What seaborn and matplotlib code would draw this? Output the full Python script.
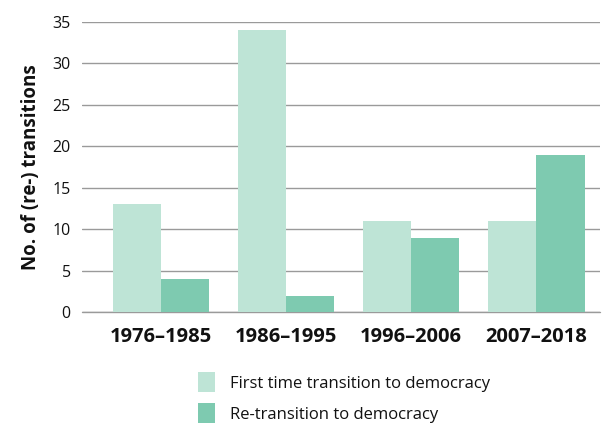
import seaborn as sns
import matplotlib.pyplot as plt
import pandas as pd

periods = ['1976–1985', '1986–1995', '1996–2006', '2007–2018']
first_time = [13, 34, 11, 11]
re_transition = [4, 2, 9, 19]
series = ['First time transition to democracy', 'Re-transition to democracy']

df = pd.DataFrame({
    'period': periods * 2,
    'count': first_time + re_transition,
    'series': [series[0]] * 4 + [series[1]] * 4,
})

sns.set_style('white')
plt.rcParams['font.family'] = ['Open Sans', 'DejaVu Sans']

fig = plt.figure(figsize=(6.02, 4.23), dpi=100)
ax = fig.add_axes([0.136, 0.262, 0.861, 0.686])
ax.set_axisbelow(True)
ax.yaxis.grid(True, color='#9a9a9a', linewidth=1)
ax.axhline(0, color='#9a9a9a', linewidth=1, zorder=0.5, clip_on=False)

sns.barplot(data=df, x='period', y='count', hue='series', ax=ax,
            palette=['#bee4d6', '#7ecab0'], width=0.77, saturation=1,
            linewidth=0)

ax.set_ylim(0, 35)
ax.set_yticks(range(0, 36, 5))
ax.set_xlim(-0.632, 3.51)
sns.despine(ax=ax, left=True, bottom=True)
ax.tick_params(axis='y', length=0, labelsize=11.5, colors='#111111', pad=8)
ax.tick_params(axis='x', length=0, pad=11, colors='#111111')
for lbl in ax.get_xticklabels():
    lbl.set_fontsize(14.5)
    lbl.set_fontweight('bold')
ax.set_xlabel('')
ax.set_ylabel('No. of (re-) transitions', fontsize=13.5, fontweight='bold',
              color='#111111', labelpad=8)

ax.legend(loc='upper left', bbox_to_anchor=(0.195, -0.155), frameon=False,
          fontsize=12, handlelength=1.0, handleheight=1.5, handletextpad=0.9,
          labelspacing=0.65, labelcolor='#111111')

fig.savefig('out.png', dpi=100)
